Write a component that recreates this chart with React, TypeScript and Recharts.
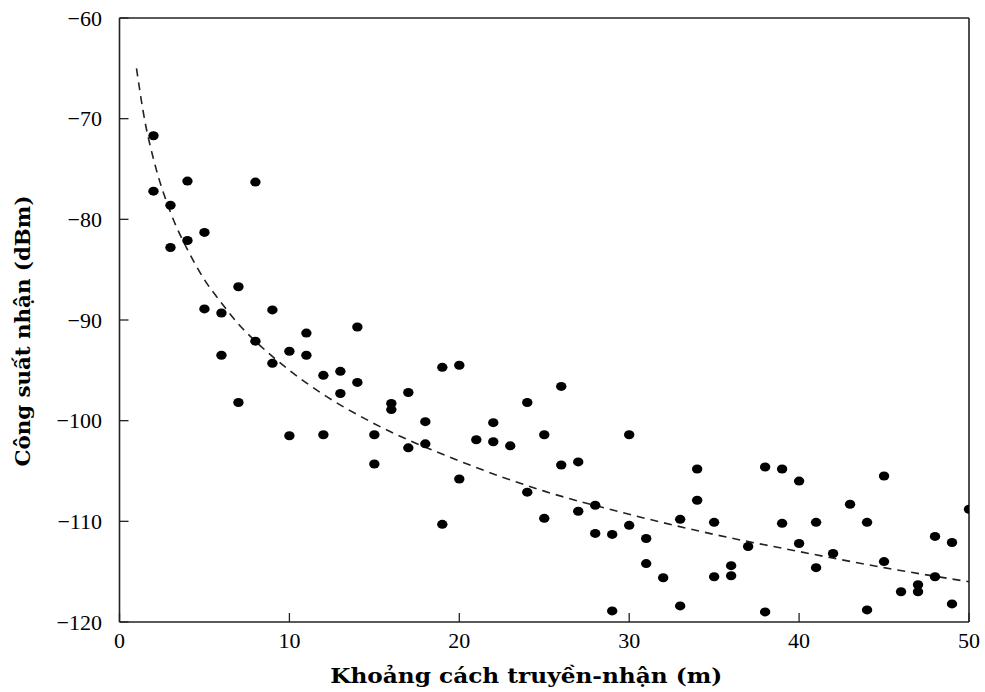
import React from 'react';
import { ComposedChart, Scatter, Line, XAxis, YAxis, Label } from 'recharts';

const distanceTicks = [0, 10, 20, 30, 40, 50];
const powerTicks = [-120, -110, -100, -90, -80, -70, -60];

const measuredDistance = [
  2, 2, 3, 3, 4, 4, 5, 5, 6, 6, 7, 7, 8, 8, 9, 9, 10, 10, 11, 11,
  12, 12, 13, 13, 14, 14, 15, 15, 16, 16, 17, 17, 18, 18, 19, 19, 20, 20, 21, 22,
  22, 23, 24, 24, 25, 25, 26, 26, 27, 27, 28, 28, 29, 29, 30, 30, 31, 31, 32, 33,
  33, 34, 34, 35, 35, 36, 36, 37, 38, 38, 39, 39, 40, 40, 41, 41, 42, 43, 44, 44,
  45, 45, 46, 47, 47, 48, 48, 49, 49, 50,
];
const measuredPower = [
  -71.7, -77.2, -78.6, -82.8, -76.2, -82.1, -81.3, -88.9, -89.3, -93.5,
  -86.7, -98.2, -76.3, -92.1, -89.0, -94.3, -93.1, -101.5, -91.3, -93.5,
  -95.5, -101.4, -95.1, -97.3, -90.7, -96.2, -101.4, -104.3, -98.3, -98.9,
  -97.2, -102.7, -100.1, -102.3, -94.7, -110.3, -94.5, -105.8, -101.9, -100.2,
  -102.1, -102.5, -98.2, -107.1, -101.4, -109.7, -96.6, -104.4, -104.1, -109.0,
  -108.4, -111.2, -111.3, -118.9, -101.4, -110.4, -111.7, -114.2, -115.6, -109.8,
  -118.4, -104.8, -107.9, -110.1, -115.5, -114.4, -115.4, -112.5, -104.6, -119.0,
  -104.8, -110.2, -106.0, -112.2, -110.1, -114.6, -113.2, -108.3, -110.1, -118.8,
  -105.5, -114.0, -117.0, -116.3, -117.0, -111.5, -115.5, -112.1, -118.2, -108.8,
];

const fitDistance = [1, 1.5, 2, 3, 4, 5, 6, 7, 8, 10, 12, 15, 20, 25, 30, 35, 40, 45, 50];
const fitPower = [-65, -70.3, -74, -79.3, -83, -86, -88.3, -90.4, -92.1, -95, -97.4, -100.3, -104, -107, -109.3, -111.3, -113, -114.6, -116];

const measured = measuredDistance.map((x, i) => ({ x, y: measuredPower[i] }));
const fit = fitDistance.map((x, i) => ({ x, y: fitPower[i] }));

const TICK_FONT = 'Liberation Serif, Times New Roman, serif';
const TITLE_FONT = 'DejaVu Serif, Liberation Serif, serif';
const fmt = (v: number) => (v < 0 ? `\u2212${Math.abs(v)}` : `${v}`);

const Dot = (p: any) => <ellipse cx={p.cx} cy={p.cy} rx={5.2} ry={4.5} fill="#000" />;

const XTick = (p: any) => (
  <text x={p.x} y={p.y} dy={16} textAnchor="middle" style={{ fontFamily: TICK_FONT, fontSize: 22 }} fill="#000">
    {fmt(p.payload.value)}
  </text>
);

const YTick = (p: any) => (
  <text x={p.x} y={p.y} dy={7.5} textAnchor="end" style={{ fontFamily: TICK_FONT, fontSize: 22 }} fill="#000">
    {fmt(p.payload.value)}
  </text>
);

const XTitle = (props: any) => {
  const vb = props.viewBox || { x: 119.5, y: 622, width: 849.5, height: 70 };
  const cx = vb.x + vb.width / 2 - 18;
  return (
    <text x={cx} y={vb.y + 61} textAnchor="middle" style={{ fontFamily: TITLE_FONT, fontWeight: 'bold', fontSize: 21 }}
      textLength={392} lengthAdjust="spacingAndGlyphs" fill="#000">
      Khoảng cách truyền-nhận (m)
    </text>
  );
};

const YTitle = (props: any) => {
  const vb = props.viewBox || { x: 0, y: 18, width: 119.5, height: 604 };
  const cx = vb.x + 30;
  const cy = vb.y + vb.height / 2 + 11;
  return (
    <text x={cx} y={cy} transform={`rotate(-90, ${cx}, ${cy})`} textAnchor="middle"
      style={{ fontFamily: TITLE_FONT, fontWeight: 'bold', fontSize: 21 }}
      textLength={271} lengthAdjust="spacingAndGlyphs" fill="#000">
      Công suất nhận (dBm)
    </text>
  );
};

const axisLine = { stroke: '#222', strokeWidth: 1.6 };
const tickLine = { stroke: '#222', strokeWidth: 1.3 };

export default function App() {
  return (
    <div style={{ position: 'absolute', left: 0, top: 0, width: 985, height: 692, overflow: 'hidden', background: '#fff' }}>
      <ComposedChart width={985} height={692} margin={{ top: 18, right: 16, bottom: 0, left: 0 }}>
        <XAxis xAxisId="bottom" dataKey="x" type="number" domain={[0, 50]} ticks={distanceTicks}
          allowDataOverflow orientation="bottom" height={70} tickSize={-9} tickMargin={19}
          axisLine={axisLine} tickLine={tickLine} tick={XTick}>
          <Label content={XTitle} />
        </XAxis>
        <XAxis xAxisId="top" dataKey="x" type="number" domain={[0, 50]} ticks={distanceTicks}
          allowDataOverflow orientation="top" mirror tickSize={9} tick={false}
          axisLine={axisLine} tickLine={tickLine} />
        <YAxis yAxisId="left" dataKey="y" type="number" domain={[-120, -60]} ticks={powerTicks}
          allowDataOverflow orientation="left" width={119.5} tickSize={-9} tickMargin={26.5}
          axisLine={axisLine} tickLine={tickLine} tick={YTick}>
          <Label content={YTitle} />
        </YAxis>
        <YAxis yAxisId="right" dataKey="y" type="number" domain={[-120, -60]} ticks={powerTicks}
          allowDataOverflow orientation="right" mirror tickSize={9} tick={false}
          axisLine={axisLine} tickLine={tickLine} />
        <Line data={fit} xAxisId="top" yAxisId="right" dataKey="y" type="monotone" dot={false}
          activeDot={false} stroke="#222" strokeWidth={1.6} strokeDasharray="8 6" isAnimationActive={false} />
        <Scatter data={measured} xAxisId="bottom" yAxisId="left" dataKey="y" shape={Dot}
          isAnimationActive={false} />
      </ComposedChart>
    </div>
  );
}
